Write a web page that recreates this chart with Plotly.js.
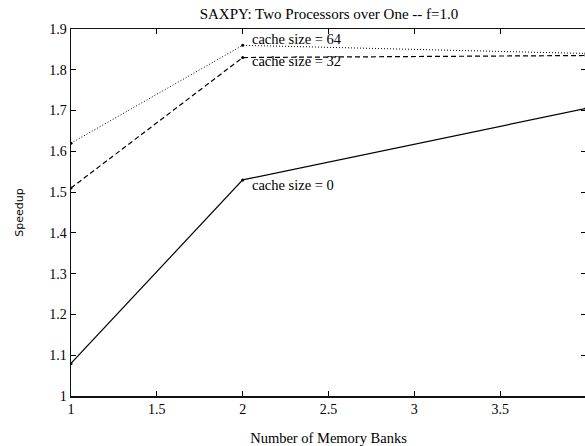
<!DOCTYPE html>
<html>
<head>
<meta charset="utf-8">
<script src="https://cdn.plot.ly/plotly-3.0.1.min.js"></script>
<style>
html, body { margin: 0; padding: 0; overflow: hidden; background: #fff; }
#chart { width: 588px; height: 446px; }
</style>
</head>
<body>
<div id="chart"></div>
<script>
// Data
var banks = [1, 2, 4];
var cache0 = [1.08, 1.53, 1.705];
var cache32 = [1.51, 1.83, 1.835];
var cache64 = [1.62, 1.86, 1.84];
var seriesNames = ['cache size = 64', 'cache size = 32', 'cache size = 0'];
var labelX = [2.04, 2.04, 2.04];
var labelY = [1.875, 1.822, 1.517];
var xTicks = [1, 1.5, 2, 2.5, 3, 3.5, 4];
var yTicks = [1, 1.1, 1.2, 1.3, 1.4, 1.5, 1.6, 1.7, 1.8, 1.9];

var serif = 'Liberation Serif, Times New Roman, serif';

var traces = [
  {x: banks, y: cache64, mode: 'lines+markers', line: {color: '#000', width: 1, dash: '1px,2px'}, marker: {size: 3, color: '#000'}, name: seriesNames[0]},
  {x: banks, y: cache32, mode: 'lines+markers', line: {color: '#000', width: 1.2, dash: '5px,3px'}, marker: {size: 3, color: '#000'}, name: seriesNames[1]},
  {x: banks, y: cache0, mode: 'lines+markers', line: {color: '#000', width: 1.2}, marker: {size: 3, color: '#000'}, name: seriesNames[2]}
];

var annotations = seriesNames.map(function (t, i) {
  return {x: labelX[i], y: labelY[i], xref: 'x', yref: 'y', text: t, showarrow: false,
          xanchor: 'left', yanchor: 'middle', font: {family: serif, size: 14.5, color: '#000'}};
});

var layout = {
  width: 588, height: 446,
  margin: {l: 71, r: 2, t: 29, b: 50},
  paper_bgcolor: '#fff', plot_bgcolor: '#fff',
  showlegend: false,
  title: {text: 'SAXPY: Two Processors over One -- f=1.0', x: 0.5595, xanchor: 'center', y: 0.9686, yanchor: 'middle',
          font: {family: serif, size: 15, color: '#000'}},
  xaxis: {
    range: [1, 4], tickvals: xTicks, ticktext: xTicks.map(String),
    showgrid: false, zeroline: false, showline: true, linecolor: '#111', linewidth: 1.5,
    mirror: 'ticks', ticks: 'inside', ticklen: 5, tickcolor: '#000', tickwidth: 1,
    tickfont: {family: serif, size: 14, color: '#000'},
    title: {text: 'Number of Memory Banks', font: {family: serif, size: 14.5, color: '#000'}, standoff: 17},
    automargin: false
  },
  yaxis: {
    range: [1, 1.9], tickvals: yTicks, ticktext: yTicks.map(function (v) { return v === 1 ? '1' : v.toFixed(1); }),
    showgrid: false, zeroline: false, showline: true, linecolor: '#111', linewidth: 1.5,
    mirror: 'ticks', ticks: 'inside', ticklen: 5, tickcolor: '#000', tickwidth: 1,
    tickfont: {family: serif, size: 14, color: '#000'},
    title: {text: 'Speedup', font: {family: 'DejaVu Sans, sans-serif', size: 11, color: '#000'}, standoff: 23},
    automargin: false
  },
  annotations: annotations
};

Plotly.newPlot('chart', traces, layout, {displayModeBar: false, staticPlot: true});
</script>
</body>
</html>
